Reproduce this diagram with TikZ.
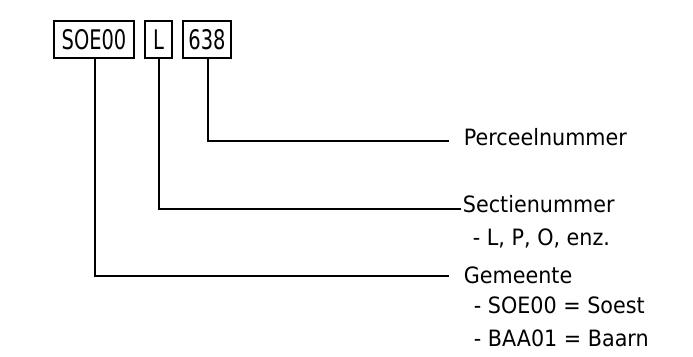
\documentclass[tikz,border=0pt]{standalone}
\usepackage{fontspec}
\setmainfont{DejaVu Sans}[FakeStretch=0.92]
\newfontfamily\boxfont{DejaVu Sans}[FakeStretch=0.72]
\begin{document}
\begin{tikzpicture}[x=1pt,y=-1pt,line width=1.8pt,
  codebox/.style={draw, inner sep=0pt, minimum height=37pt, font=\boxfont\fontsize{27}{27}\selectfont},
  lbl/.style={anchor=base west, inner sep=0pt, font=\fontsize{22.5}{22.5}\selectfont}]
\useasboundingbox (0,0) rectangle (693,356);
\node[codebox, minimum width=80pt] (soe) at (94,39.5) {SOE00};
\node[codebox, minimum width=27pt] (sec) at (158.5,39.5) {L};
\node[codebox, minimum width=48pt] (num) at (207,39.5) {638};
\node[lbl] (perc) at (463,145) {Perceelnummer};
\node[lbl] (sect) at (462,212) {Sectienummer};
\node[lbl] (sect2) at (472,245) {- L, P, O, enz.};
\node[lbl] (gem) at (463,283) {Gemeente};
\node[lbl] (gem1) at (473,313) {- SOE00 = Soest};
\node[lbl] (gem2) at (473,346) {- BAA01 = Baarn};
\coordinate (soeX) at (95,0);
\coordinate (secX) at (159,0);
\coordinate (numX) at (208,0);
\coordinate (pe) at (449,141);
\coordinate (se) at (461,209);
\coordinate (ge) at (449,276);
\draw (num.south -| numX) |- (pe);
\draw (sec.south -| secX) |- (se);
\draw (soe.south -| soeX) |- (ge);
\end{tikzpicture}
\end{document}
